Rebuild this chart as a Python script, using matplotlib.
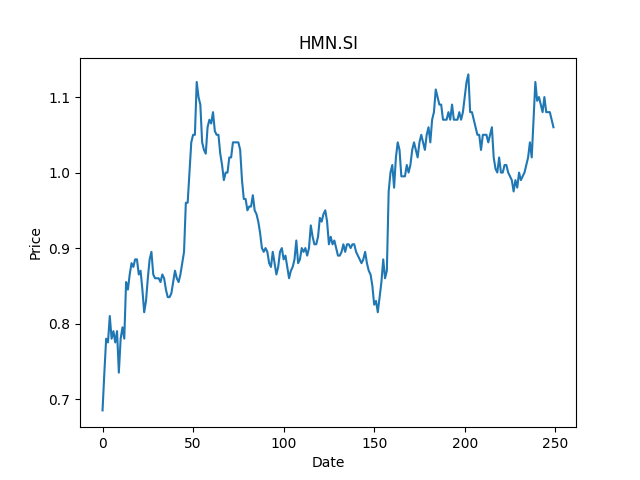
import matplotlib
matplotlib.use('Agg')
import matplotlib.pyplot as plt

ticker = 'HMN.SI'
precios = [
    0.685, 0.735, 0.78, 0.775, 0.81, 0.78, 0.79, 0.775, 0.79, 0.735,
    0.78, 0.795, 0.78, 0.855, 0.845, 0.865, 0.88, 0.875, 0.885, 0.885,
    0.865, 0.87, 0.845, 0.815, 0.83, 0.86, 0.885, 0.895, 0.865, 0.86,
    0.86, 0.86, 0.855, 0.865, 0.86, 0.845, 0.835, 0.835, 0.84, 0.855,
    0.87, 0.86, 0.855, 0.865, 0.88, 0.895, 0.96, 0.96, 1.0, 1.04,
    1.05, 1.05, 1.12, 1.1, 1.09, 1.04, 1.03, 1.025, 1.06, 1.07,
    1.065, 1.08, 1.055, 1.05, 1.05, 1.025, 1.01, 0.99, 1.0, 1.0,
    1.02, 1.02, 1.04, 1.04, 1.04, 1.04, 1.03, 0.99, 0.965, 0.965,
    0.95, 0.955, 0.955, 0.97, 0.95, 0.945, 0.935, 0.92, 0.9, 0.895,
    0.9, 0.895, 0.88, 0.875, 0.895, 0.88, 0.865, 0.875, 0.895, 0.9,
    0.885, 0.89, 0.875, 0.86, 0.87, 0.875, 0.885, 0.91, 0.88, 0.885,
    0.9, 0.895, 0.9, 0.89, 0.9, 0.93, 0.915, 0.905, 0.905, 0.915,
    0.94, 0.935, 0.945, 0.95, 0.935, 0.905, 0.915, 0.905, 0.91, 0.9,
    0.89, 0.89, 0.895, 0.905, 0.895, 0.905, 0.905, 0.9, 0.905, 0.905,
    0.895, 0.89, 0.885, 0.88, 0.885, 0.895, 0.88, 0.87, 0.865, 0.85,
    0.825, 0.83, 0.815, 0.835, 0.855, 0.885, 0.86, 0.87, 0.975, 1.0,
    1.01, 0.98, 1.02, 1.04, 1.03, 0.995, 0.995, 0.995, 1.01, 1.0,
    1.01, 1.03, 1.04, 1.03, 1.02, 1.04, 1.05, 1.04, 1.03, 1.05,
    1.06, 1.04, 1.07, 1.08, 1.11, 1.1, 1.09, 1.09, 1.07, 1.07,
    1.07, 1.08, 1.07, 1.09, 1.07, 1.07, 1.07, 1.08, 1.07, 1.08,
    1.1, 1.12, 1.13, 1.08, 1.08, 1.07, 1.06, 1.05, 1.05, 1.03,
    1.05, 1.05, 1.05, 1.04, 1.05, 1.06, 1.02, 1.005, 1.0, 1.02,
    1.0, 1.0, 1.01, 1.01, 1.0, 0.995, 0.99, 0.975, 0.99, 0.98,
    1.0, 0.99, 0.995, 1.0, 1.01, 1.02, 1.04, 1.02, 1.07, 1.12,
    1.095, 1.1, 1.09, 1.08, 1.1, 1.08, 1.08, 1.08, 1.07, 1.06,
]
dias = list(range(len(precios)))

plt.plot(dias, precios)
plt.title(ticker)
plt.xlabel('Date')
plt.ylabel('Price')
plt.savefig('out.png')
